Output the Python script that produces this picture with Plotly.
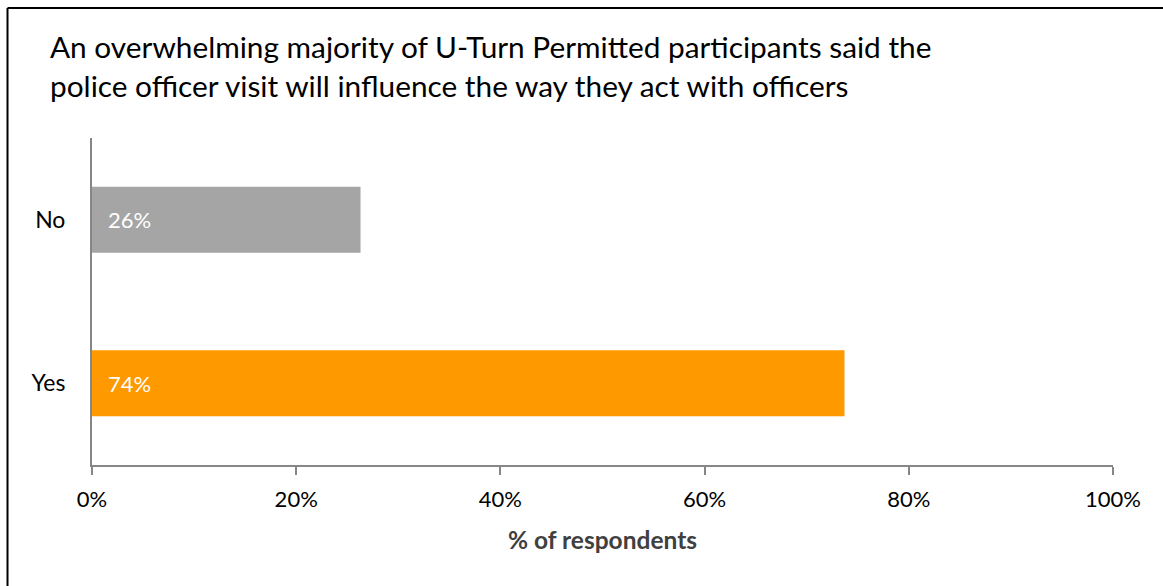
import plotly.graph_objects as go

# Survey responses (% of respondents)
categories = ["Yes", "No"]
values = [73.7, 26.3]
bar_colors = ["#FF9900", "#A5A5A5"]
tick_vals = [0, 20, 40, 60, 80, 100]
tick_text = ["0%", "20%", "40%", "60%", "80%", "100%"]

title_text = ("An overwhelming majority of U-Turn Permitted participants said the<br>"
              "police officer visit will influence the way they act with officers")

FONT = "Lato"
AXIS_GREY = "#868686"

# Plot-area geometry (pixels) used to place items outside the axes
W, H = 1163, 586
L, R, T, B = 92, 50, 138, 121
PW, PH = W - L - R, H - T - B


def px_x(px):
    return (px - L) / PW


def px_y(px):
    return 1 + (T - px) / PH


fig = go.Figure()
fig.add_trace(go.Bar(
    y=categories,
    x=values,
    orientation="h",
    marker=dict(color=bar_colors, line=dict(width=0)),
    width=0.405,
    hoverinfo="skip",
))

# Value labels inside the bars, near the base
for cat, val in zip(categories, values):
    fig.add_annotation(
        x=0, y=cat, xref="x", yref="y",
        text=f"{val:.0f}%",
        showarrow=False, xanchor="left", yanchor="middle",
        xshift=14,
        font=dict(family=FONT, size=22, color="white"),
    )

# Chart title, two lines, left aligned
fig.add_annotation(
    x=px_x(48), y=px_y(27), xref="paper", yref="paper",
    text=title_text, showarrow=False,
    xanchor="left", yanchor="top", align="left",
    font=dict(family=FONT, size=29.8, color="black"),
)

# Frame lines along the top and left edges of the figure
fig.add_shape(type="line", xref="paper", yref="paper",
              x0=px_x(7.5), x1=px_x(W + 5), y0=px_y(8), y1=px_y(8),
              line=dict(color="black", width=2))
fig.add_shape(type="line", xref="paper", yref="paper",
              x0=px_x(7.5), x1=px_x(7.5), y0=px_y(8), y1=px_y(H + 5),
              line=dict(color="black", width=2))

fig.update_layout(
    width=W, height=H,
    margin=dict(l=L, r=R, t=T, b=B),
    paper_bgcolor="white", plot_bgcolor="white",
    showlegend=False,
    font=dict(family=FONT, color="black"),
    xaxis=dict(
        range=[0, 100],
        tickvals=tick_vals, ticktext=tick_text,
        ticks="outside", ticklen=8, tickcolor=AXIS_GREY, tickwidth=2,
        showline=True, linecolor=AXIS_GREY, linewidth=2,
        showgrid=False, zeroline=False,
        tickfont=dict(family=FONT, size=22, color="black"),
        ticklabelstandoff=6,
        title=dict(text="<b>% of respondents</b>", standoff=20,
                   font=dict(family=FONT, size=24.5, color="#404040")),
    ),
    yaxis=dict(
        range=[-0.5, 1.5],
        categoryorder="array", categoryarray=categories,
        showline=True, linecolor=AXIS_GREY, linewidth=2,
        showgrid=False, zeroline=False, ticks="",
        tickfont=dict(family=FONT, size=23, color="black"),
        ticklabelstandoff=20,
    ),
)

fig.write_html("out.html")
